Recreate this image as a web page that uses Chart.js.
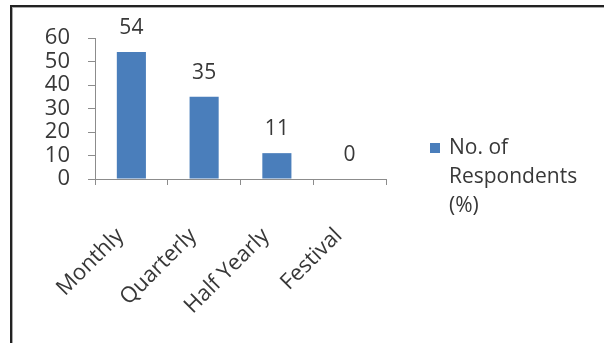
<!DOCTYPE html>
<html>
<head>
<meta charset="utf-8">
<script src="https://cdn.jsdelivr.net/npm/chart.js@4/dist/chart.umd.min.js"></script>
<style>
  html, body { margin: 0; padding: 0; background: #fff; }
  #wrap { position: relative; width: 604px; height: 343px; overflow: hidden; }
  #frame {
    position: absolute; left: 10px; top: 5px; right: -4px; bottom: -4px;
    border-left: 2px solid #222; border-top: 2px solid #222;
    box-shadow: inset 1px 1px 0 #aaa;
  }
  #chart { position: absolute; left: 0; top: 0; }
</style>
</head>
<body>
<div id="wrap">
  <div id="frame"></div>
  <canvas id="chart" width="604" height="343"></canvas>
</div>
<script>
// frequency categories and share of respondents (%)
var categories = ['Monthly', 'Quarterly', 'Half Yearly', 'Festival'];
var respondents = [54, 35, 11, 0];
var yTicks = [0, 10, 20, 30, 40, 50, 60];
var seriesName = ['No. of', 'Respondents', '(%)'];

var barColor = '#4a7ebb';
var textColor = '#383838';
var axisColor = '#8c8c8c';
var fontFamily = '"Open Sans", "Liberation Sans", sans-serif';

// value labels above each bar
var valueLabels = {
  id: 'valueLabels',
  afterDatasetsDraw: function(chart) {
    var ctx = chart.ctx;
    var meta = chart.getDatasetMeta(0);
    ctx.save();
    ctx.fillStyle = textColor;
    ctx.font = '21px ' + fontFamily;
    ctx.textAlign = 'center';
    ctx.textBaseline = 'middle';
    meta.data.forEach(function(bar, i) {
      ctx.fillText(String(chart.data.datasets[0].data[i]), bar.x, bar.y - 24);
    });
    ctx.restore();
  }
};

// legend on the right, name wrapped over three lines
var sideLegend = {
  id: 'sideLegend',
  afterDraw: function(chart) {
    var ctx = chart.ctx;
    var x = chart.chartArea.right + 44;
    var y = 148;
    ctx.save();
    ctx.fillStyle = barColor;
    ctx.fillRect(x, y - 5, 10, 10);
    ctx.fillStyle = textColor;
    ctx.font = '21px ' + fontFamily;
    ctx.textAlign = 'left';
    ctx.textBaseline = 'middle';
    seriesName.forEach(function(line, i) {
      ctx.fillText(line, x + 19, y + i * 29);
    });
    ctx.restore();
  }
};

new Chart(document.getElementById('chart'), {
  type: 'bar',
  data: {
    labels: categories,
    datasets: [{
      label: seriesName.join(' '),
      data: respondents,
      backgroundColor: barColor,
      borderWidth: 0,
      barPercentage: 0.4,
      categoryPercentage: 1
    }]
  },
  options: {
    responsive: false,
    animation: false,
    layout: { padding: { left: 0, right: 218, top: 38, bottom: 0 } },
    plugins: {
      legend: { display: false },
      tooltip: { enabled: false }
    },
    scales: {
      x: {
        offset: true,
        grid: {
          offset: true,
          drawOnChartArea: false,
          tickLength: 6,
          color: axisColor
        },
        border: { color: axisColor, width: 1 },
        ticks: {
          color: textColor,
          font: { family: fontFamily, size: 22 },
          minRotation: 45,
          maxRotation: 45,
          autoSkip: false,
          labelOffset: -11,
          padding: 38
        },
        afterFit: function(scale) { scale.height = 343 - 179; }
      },
      y: {
        min: 0,
        max: 60,
        afterBuildTicks: function(scale) {
          scale.ticks = yTicks.map(function(v) { return { value: v }; });
        },
        grid: {
          drawOnChartArea: false,
          tickLength: 7,
          color: axisColor
        },
        border: { color: axisColor, width: 1 },
        ticks: {
          color: textColor,
          font: { family: fontFamily, size: 22 },
          autoSkip: false,
          padding: 18
        },
        afterFit: function(scale) { scale.width = 95; }
      }
    }
  },
  plugins: [valueLabels, sideLegend]
});
</script>
</body>
</html>
